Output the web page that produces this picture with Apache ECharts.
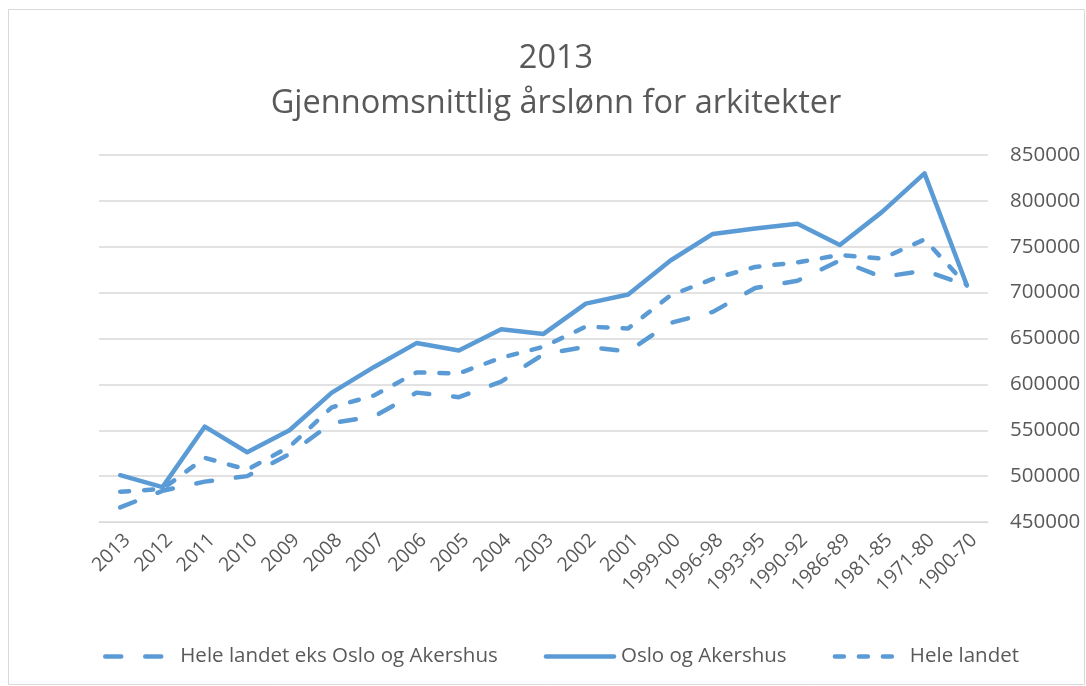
<!DOCTYPE html>
<html>
<head>
<meta charset="utf-8">
<script src="https://cdn.jsdelivr.net/npm/echarts@6/dist/echarts.min.js"></script>
<style>
  html, body { margin: 0; padding: 0; background: #ffffff; }
  #chart { width: 1086px; height: 686px; }
</style>
</head>
<body>
<div id="chart"></div>
<script>
const categories = ['2013','2012','2011','2010','2009','2008','2007','2006','2005','2004','2003','2002','2001','1999-00','1996-98','1993-95','1990-92','1986-89','1981-85','1971-80','1900-70'];
const eksOsloAkershus = [466000, 484000, 494000, 500000, 524000, 558000, 565000, 591000, 586000, 603000, 633000, 641000, 636000, 667000, 679000, 705000, 713000, 735000, 717000, 724000, 708000];
const osloAkershus = [501000, 488000, 554000, 526000, 550000, 591000, 619000, 645000, 637000, 660000, 655000, 688000, 698000, 735000, 764000, 770000, 775000, 752000, 788000, 830000, 708000];
const heleLandet = [483000, 486000, 520000, 507000, 532000, 575000, 588000, 613000, 612000, 629000, 641000, 663000, 661000, 697000, 715000, 728000, 733000, 741000, 737000, 758000, 708000];
const seriesNames = ['Hele landet eks Oslo og Akershus', 'Oslo og Akershus', 'Hele landet'];
const titleLines = ['2013', 'Gjennomsnittlig årslønn for arkitekter'];

const FONT = '"Open Sans", "Liberation Sans", sans-serif';
const COLOR = '#5b9bd5';
const TEXT = '#595959';
const LW = 4.5;

const styles = [
  { type: [16, 24], width: LW, color: COLOR, cap: 'round', join: 'round' },
  { type: 'solid', width: LW, color: COLOR, cap: 'round', join: 'round' },
  { type: [9, 15], width: LW, color: COLOR, cap: 'round', join: 'round' }
];
const dataSets = [eksOsloAkershus, osloAkershus, heleLandet];

const chart = echarts.init(document.getElementById('chart'), null, { renderer: 'canvas' });
chart.setOption({
  animation: false,
  backgroundColor: '#ffffff',
  graphic: [{
    type: 'rect',
    shape: { x: 8.5, y: 9.5, width: 1076, height: 675 },
    style: { fill: 'none', stroke: '#d9d9d9', lineWidth: 1 },
    silent: true, z: -1
  }],
  title: {
    text: titleLines.join('\n'),
    left: 551,
    top: 31,
    textAlign: 'center',
    textStyle: { fontFamily: FONT, fontSize: 32.5, fontWeight: 'normal', color: TEXT, lineHeight: 45 }
  },
  legend: {
    left: 98,
    top: 641,
    itemWidth: 68,
    itemHeight: 14,
    itemGap: 46,
    textStyle: { fontFamily: FONT, fontSize: 20.5, color: TEXT, padding: [0, 0, 0, 2] },
    data: seriesNames.map((n, i) => ({
      name: n,
      lineStyle: styles[i],
      itemStyle: { color: 'rgba(0,0,0,0)', borderWidth: 0, opacity: 0 }
    }))
  },
  grid: { left: 99, right: 98, top: 155, bottom: 164, containLabel: false },
  xAxis: {
    type: 'category',
    data: categories,
    boundaryGap: true,
    axisLine: { show: true, lineStyle: { color: '#d9d9d9', width: 1 } },
    axisTick: { show: false },
    axisLabel: { rotate: 45, margin: 8, verticalAlign: 'top', interval: 0, fontFamily: FONT, fontSize: 19.5, color: TEXT }
  },
  yAxis: {
    type: 'value',
    position: 'right',
    min: 450000,
    max: 850000,
    interval: 50000,
    axisLine: { show: false },
    axisTick: { show: false },
    axisLabel: { margin: 22, fontFamily: FONT, fontSize: 20.5, color: TEXT, align: 'left', formatter: v => String(v) },
    splitLine: { show: true, lineStyle: { color: '#d9d9d9', width: 1.5 } }
  },
  series: seriesNames.map((n, i) => ({
    name: n,
    type: 'line',
    data: dataSets[i],
    symbol: 'none',
    showSymbol: false,
    lineStyle: styles[i],
    itemStyle: { color: COLOR },
    z: i === 1 ? 3 : 2
  }))
});
</script>
</body>
</html>
